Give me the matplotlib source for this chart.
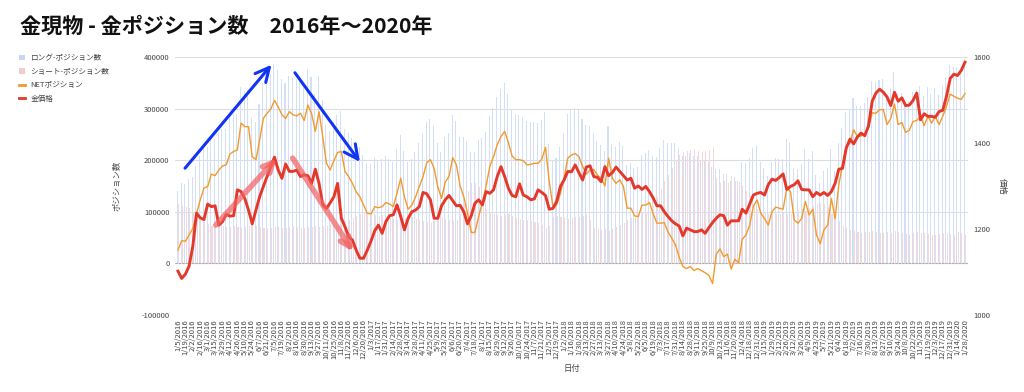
import matplotlib
matplotlib.use("Agg")
import matplotlib.pyplot as plt
import numpy as np
import pandas as pd
from matplotlib.patches import Patch
from matplotlib.lines import Line2D

plt.rcParams["font.family"] = ["Noto Sans CJK JP", "DejaVu Sans"]

# ---- data (weekly, Tuesday reports) -----------------------------------------
DATES = pd.date_range("2016-01-05", periods=213, freq="7D")
DATE_FIX = {"1/1/2019": "12/31/2018", "12/25/2018": "12/24/2018"}

# positions in thousands of contracts
NET_K = [
    26, 44, 43, 55, 68, 97, 123, 146, 149, 173, 170, 181, 189, 191, 212, 217,
    220, 272, 265, 265, 207, 201, 239, 281, 291, 299, 316, 303, 288, 281, 294,
    288, 286, 291, 277, 307, 290, 256, 294, 245, 194, 181, 199, 215, 217, 178,
    168, 155, 139, 129, 113, 97, 96, 110,
    108, 110, 118, 115, 110, 136, 165, 129, 105, 113, 129, 149, 168, 195, 201,
    184, 148, 126, 158, 168, 205, 191, 150, 129, 97, 60, 60, 91, 118, 150, 188,
    207, 230, 246, 256, 234, 208, 201, 201, 199, 191, 192, 194, 194, 202, 225,
    159, 110, 113, 135, 165, 204, 210, 213,
    207, 188, 173, 181, 182, 171, 165, 150, 204, 165, 155, 162, 149, 107, 107,
    92, 91, 113, 113, 118, 96, 78, 78, 79, 61, 49, 36, 12, -6, -10, -6, -14,
    -10, -14, -18, -23, -39, 18, 28, 13, 18, -11, 8, 1, 47, 55, 74, 111, 123,
    97, 87, 74,
    100, 109, 107, 105, 146, 139, 84, 78, 87, 120, 94, 105, 55, 38, 65, 74,
    126, 87, 152, 191, 226, 233, 259, 246, 247, 251, 262, 292, 291, 298, 298,
    269, 281, 309, 269, 273, 254, 258, 275, 277, 285, 267, 285, 272, 285, 269,
    285, 304, 328, 324, 320, 318, 329,
]
SHORT_K = [
    115, 112, 110, 108, 100, 92, 85, 80, 76, 73, 72, 74, 72, 70, 71, 72, 70,
    69, 70, 72, 74, 73, 70, 68, 67, 68, 70, 71, 69, 68, 70, 72, 71, 69, 68, 70,
    71, 73, 70, 72, 74, 76, 75, 73, 78, 82, 85, 88, 92, 96, 98, 97, 96, 94,
    92, 93, 90, 88, 86, 85, 84, 88, 92, 90, 86, 84, 82, 80, 79, 82, 86, 90, 87,
    84, 82, 85, 95, 115, 140, 155, 156, 148, 125, 105, 98, 95, 93, 92, 94, 95,
    92, 88, 86, 84, 85, 83, 80, 79, 75, 68, 72, 90, 92, 90, 88, 86, 88, 89,
    90, 92, 95, 85, 68, 66, 65, 67, 62, 66, 70, 74, 78, 84, 88, 92, 96, 98,
    100, 102, 112, 128, 145, 160, 172, 185, 198, 210, 215, 218, 220, 222, 218,
    215, 217, 220, 225, 165, 155, 160, 155, 170, 160, 158, 150, 140, 130, 112,
    105, 100, 98, 96,
    97, 95, 96, 98, 95, 96, 100, 104, 106, 102, 108, 112, 116, 118, 115, 110,
    96, 92, 82, 72, 68, 64, 62, 60, 59, 60, 61, 62, 60, 58, 59, 60, 59, 62, 60,
    58, 57, 56, 58, 60, 59, 58, 57, 56, 55, 57, 58, 58, 57, 56, 60, 58, 56,
]
LONG_K = [
    141, 156, 153, 163, 168, 189, 208, 226, 225, 246, 242, 255, 261, 261, 283,
    289, 290, 341, 335, 337, 281, 274, 309, 349, 358, 367, 386, 374, 357, 349,
    364, 360, 357, 360, 345, 377, 361, 329, 364, 317, 268, 257, 274, 288, 295,
    260, 253, 243, 231, 225, 211, 194, 192, 204,
    200, 203, 208, 203, 196, 221, 249, 217, 197, 203, 215, 233, 250, 275, 280,
    266, 234, 216, 245, 252, 287, 276, 245, 244, 237, 215, 216, 239, 243, 255,
    286, 302, 323, 338, 350, 329, 300, 289, 287, 283, 276, 275, 274, 273, 277,
    293, 231, 200, 205, 225, 253, 290, 298, 302,
    297, 280, 268, 266, 250, 237, 230, 217, 266, 231, 225, 236, 227, 191, 195,
    184, 187, 211, 213, 220, 208, 206, 223, 239, 233, 234, 234, 222, 209, 208,
    214, 208, 208, 201, 199, 197, 186, 183, 183, 173, 173, 159, 168, 159, 197,
    195, 204, 223, 228, 197, 185, 170,
    197, 204, 203, 203, 241, 235, 184, 182, 193, 222, 202, 217, 171, 156, 180,
    184, 222, 179, 234, 263, 294, 297, 321, 306, 306, 311, 323, 354, 351, 356,
    357, 329, 340, 371, 329, 331, 311, 314, 333, 337, 344, 325, 342, 328, 340,
    326, 343, 362, 385, 380, 380, 376, 385,
]
PRICE = [
    1102, 1085, 1095, 1114, 1160, 1237, 1226, 1222, 1258, 1252, 1254, 1209,
    1217, 1234, 1230, 1231, 1291, 1287, 1271, 1244, 1212, 1244, 1275, 1299,
    1322, 1345, 1367, 1337, 1318, 1351, 1334, 1334, 1337, 1322, 1326, 1324,
    1306, 1339, 1306, 1256, 1248, 1261, 1275, 1306, 1225, 1205, 1182, 1174,
    1151, 1132, 1132, 1151, 1172, 1196,
    1209, 1190, 1217, 1231, 1233, 1256, 1229, 1198, 1225, 1240, 1244, 1252,
    1285, 1282, 1268, 1225, 1225, 1254, 1268, 1278, 1266, 1254, 1255, 1240,
    1212, 1231, 1260, 1268, 1256, 1287, 1283, 1291, 1322, 1345, 1322, 1295,
    1278, 1275, 1305, 1279, 1275, 1268, 1270, 1291, 1285, 1278, 1246, 1248,
    1264, 1299, 1314, 1334, 1333, 1349,
    1331, 1314, 1344, 1347, 1322, 1320, 1310, 1345, 1324, 1331, 1344, 1334,
    1324, 1314, 1318, 1295, 1300, 1292, 1299, 1287, 1272, 1254, 1254, 1240,
    1229, 1219, 1212, 1207, 1184, 1202, 1198, 1194, 1194, 1198, 1190, 1203,
    1215, 1225, 1233, 1231, 1209, 1219, 1219, 1219, 1246, 1237, 1258, 1279,
    1283, 1285, 1279, 1303,
    1316, 1313, 1320, 1328, 1292, 1299, 1303, 1312, 1292, 1291, 1291, 1275,
    1285, 1279, 1285, 1278, 1287, 1306, 1339, 1341, 1388, 1409, 1398, 1414,
    1423, 1417, 1440, 1497, 1516, 1525, 1518, 1507, 1487, 1518, 1497, 1505,
    1487, 1488, 1499, 1516, 1454, 1468, 1462, 1462, 1460, 1473, 1476, 1508,
    1550, 1560, 1557, 1569, 1588,
]

TITLE = "金現物 - 金ポジション数　2016年〜2020年"
LEGEND = ["ロング-ポジション数", "ショート-ポジション数", "NETポジション", "金価格"]

C_LONG, C_SHORT = "#d3dff6", "#f5d9d9"
C_LONG_KEY, C_SHORT_KEY = "#c9d7f4", "#f1cccc"
C_NET, C_PRICE = "#f39a2a", "#e4392a"
C_TXT = "#444444"

labels = [f"{d.month}/{d.day}/{d.year}" for d in DATES]
labels = [DATE_FIX.get(s, s) for s in labels]
x = np.arange(len(labels))
k = 1000

fig = plt.figure(figsize=(10.24, 3.92), dpi=100)
ax = fig.add_axes([0.1709, 0.1964, 0.7744, 0.6582])
ax2 = ax.twinx()
ax.set_zorder(ax2.get_zorder() + 1)
ax.patch.set_visible(False)

ax.bar(x - 0.17, np.array(LONG_K) * k, width=0.28, color=C_LONG, lw=0, zorder=2)
ax.bar(x + 0.17, np.array(SHORT_K) * k, width=0.28, color=C_SHORT, lw=0, zorder=2)
ax.plot(x, np.array(NET_K) * k, color=C_NET, lw=1.0, zorder=4)
ax.set_ylim(-100000, 400000)
ax.set_yticks(range(-100000, 400001, 100000))
ax.set_yticklabels([str(v) for v in range(-100000, 400001, 100000)])
for v in range(-100000, 400001, 100000):
    ax.axhline(v, color="#dddddd", lw=0.8, zorder=0)
ax.axhline(0, color="#aaaaaa", lw=0.8, ls=(0, (2, 1)), zorder=3)
ax.set_xlim(-0.8, len(x) - 0.2)

# price on the right axis, drawn in the same axes via a linear map
ax2.set_ylim(1000, 1600)
ax2.set_yticks([1000, 1200, 1400, 1600])
ax2.set_ylabel("価格", color=C_TXT, fontsize=6, rotation=270, labelpad=12)
p = (np.array(PRICE) - 1000) / 600 * 500000 - 100000
ax.plot(x, p, color=C_PRICE, lw=2.1, zorder=5, solid_joinstyle="round")

ax.set_xticks(x[::2])
ax.set_xticklabels(labels[::2], rotation=90, fontsize=5.2, color=C_TXT)
ax.set_xlabel("日付", color=C_TXT, fontsize=6, labelpad=3)
ax.set_ylabel("ポジション数", color=C_TXT, fontsize=6, labelpad=14)

for a in (ax, ax2):
    for s in a.spines.values():
        s.set_visible(False)
    a.tick_params(length=0, labelsize=5.5, labelcolor=C_TXT, pad=4)
ax.tick_params(axis="x", pad=3)

# hand-drawn style annotations
def arrow(tail, tip, color, lw, alpha=1.0, hl=0.9, hw=0.45):
    ax.annotate("", xy=tip, xytext=tail, zorder=6,
                arrowprops=dict(arrowstyle=f"->,head_length={hl},head_width={hw}",
                                color=color, lw=lw, alpha=alpha,
                                shrinkA=0, shrinkB=0))

arrow((1.9, 184500), (25.2, 385000), "#1034f5", 2.2, hl=1.0, hw=0.5)
arrow((31.5, 369500), (49.0, 196700), "#1034f5", 2.2, hl=1.0, hw=0.5)
arrow((10.2, 74400), (26.6, 203900), "#f26060", 4.0, 0.7, hl=0.7, hw=0.35)
arrow((30.9, 203900), (47.2, 22500), "#f26060", 4.0, 0.7, hl=0.7, hw=0.35)

fig.text(0.0195, 0.932, TITLE, fontsize=15.2, fontweight="bold",
         ha="left", va="center", color="#111111")

handles = [Patch(fc=C_LONG_KEY, ec="none"), Patch(fc=C_SHORT_KEY, ec="none"),
           Line2D([], [], color=C_NET, lw=2), Line2D([], [], color=C_PRICE, lw=2)]
fig.legend(handles, LEGEND, loc="upper left", bbox_to_anchor=(0.012, 0.88),
           frameon=False, fontsize=5.5, handlelength=0.7, handleheight=0.7,
           handletextpad=0.8, labelspacing=0.75, labelcolor=C_TXT)

fig.savefig("out.png", dpi=100)
